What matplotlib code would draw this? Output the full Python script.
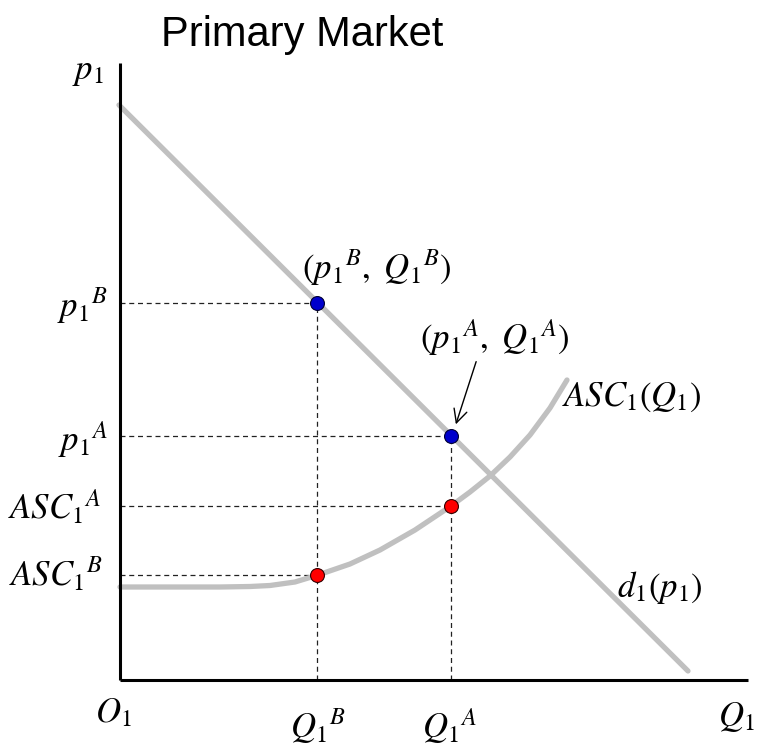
import matplotlib
matplotlib.use("Agg")
import matplotlib.pyplot as plt

plt.rcParams['mathtext.fontset'] = 'stix'
plt.rcParams['font.family'] = ['Liberation Sans', 'DejaVu Sans']

# ---- data (chart units, origin at O1) ----
demand_q = [-1, 568]
demand_p = [575, 9]

asc_q = [0, 100, 130, 150, 175, 198, 230, 260, 295, 331, 350, 370, 390, 410, 430, 447]
asc_p = [93, 93, 93.5, 94.5, 98, 105, 116, 130, 150, 174, 188, 204, 223, 245, 272, 300]

point_names = ['B', 'A']
point_q = [197, 331]
point_price = [377, 244]
point_asc = [105, 174]

axis_q_max = 628
axis_p_max = 617

fig = plt.figure(figsize=(7.57, 7.46), dpi=100)
ax = fig.add_axes([0, 0, 1, 1])
ax.set_xlim(-120, 637)
ax.set_ylim(-66, 680)
ax.axis('off')

gray = '#c0c0c0'
# curves
ax.plot(demand_q, demand_p, color=gray, lw=3.8, solid_capstyle='round', zorder=2)
ax.plot(asc_q, asc_p, color=gray, lw=3.8, solid_capstyle='round',
        solid_joinstyle='round', zorder=2)

# axes
ax.plot([0, 0], [0, axis_p_max], color='black', lw=2.2, zorder=3, solid_capstyle='butt')
ax.plot([0, axis_q_max], [0, 0], color='black', lw=2.2, zorder=3, solid_capstyle='butt')

# dashed guide lines
dash = dict(color='#222222', lw=0.9, ls=(0, (4, 3)), zorder=1)
for q, p, a in zip(point_q, point_price, point_asc):
    ax.plot([0, q], [p, p], **dash)
    ax.plot([0, q], [a, a], **dash)
    ax.plot([q, q], [0, p], **dash)

# points
ax.plot(point_q, point_price, 'o', color='#0000cc', mec='#000033', mew=0.8, ms=10, zorder=5)
ax.plot(point_q, point_asc, 'o', color='#ff0000', mec='#330000', mew=0.8, ms=10, zorder=5)

fs = 25
# axis labels
ax.text(-32, 608, r'$p_1$', fontsize=fs, ha='center', va='center')
ax.text(-7, -33, r'$O_1$', fontsize=fs, ha='center', va='center')
ax.text(635, -37, r'$Q_1$', fontsize=fs, ha='right', va='center')

# tick-like labels
ax.text(-12, point_price[0] - 3, r'$p_1{}^{B}$', fontsize=fs, ha='right', va='center')
ax.text(-12, point_price[1] - 3, r'$p_1{}^{A}$', fontsize=fs, ha='right', va='center')
ax.text(-18, point_asc[1] - 1, r'$ASC_1{}^{A}$', fontsize=fs, ha='right', va='center')
ax.text(-17, point_asc[0] + 1, r'$ASC_1{}^{B}$', fontsize=fs, ha='right', va='center')
ax.text(point_q[0] + 1, -46, r'$Q_1{}^{B}$', fontsize=fs, ha='center', va='center')
ax.text(point_q[1] - 1, -46, r'$Q_1{}^{A}$', fontsize=fs, ha='center', va='center')

# point annotations
ax.text(257, 412, r'$(p_1{}^{B},\ Q_1{}^{B})$', fontsize=fs, ha='center', va='center')
ax.text(375, 343, r'$(p_1{}^{A},\ Q_1{}^{A})$', fontsize=fs, ha='center', va='center')
ax.annotate('', xy=(point_q[1] + 4, point_price[1] + 9), xytext=(357, 321),
            arrowprops=dict(arrowstyle='->', color='black', lw=1.0,
                            mutation_scale=24), zorder=6)

# curve labels
ax.text(442, 283, r'$ASC_1(Q_1)$', fontsize=fs, ha='left', va='center')
ax.text(497, 93, r'$d_1(p_1)$', fontsize=fs, ha='left', va='center')

# title
ax.text(182, 645, 'Primary Market', fontsize=30, ha='center', va='center',
        family=['Liberation Sans', 'DejaVu Sans'])

fig.savefig('out.png', dpi=100)
